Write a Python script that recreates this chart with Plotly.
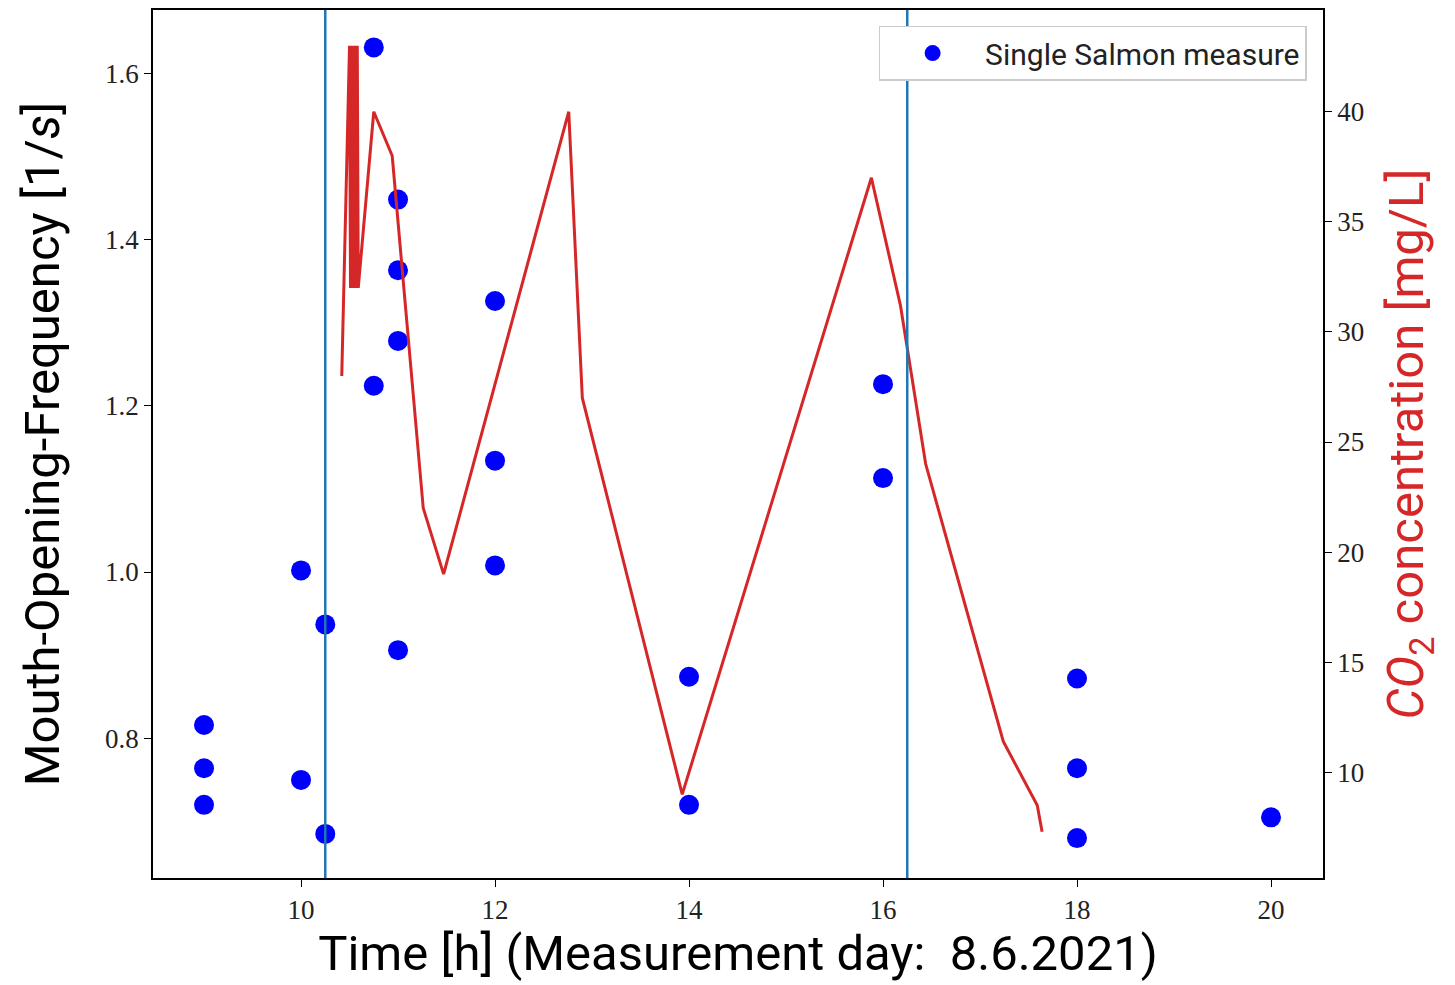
import plotly.graph_objects as go

# Salmon mouth-opening frequency measurements
time_h = [9, 9, 9, 10, 10, 10.25, 10.25, 10.75, 10.75, 11, 11, 11, 11,
          12, 12, 12, 14, 14, 16, 16, 18, 18, 18, 20]
freq = [0.816, 0.764, 0.72, 1.002, 0.75, 0.937, 0.685, 1.631, 1.224,
        1.448, 1.363, 1.278, 0.906, 1.326, 1.134, 1.008, 0.874, 0.72,
        1.226, 1.113, 0.872, 0.764, 0.68, 0.705]

# CO2 concentration series
co2_time = [10.42, 10.50, 10.51, 10.52, 10.53, 10.54, 10.55, 10.56, 10.57,
            10.58, 10.59, 10.75, 10.94,
            11.26, 11.47, 12.76, 12.90, 13.93, 15.88, 16.18, 16.44, 17.24,
            17.59, 17.64]
co2_val = [28, 43, 32, 43, 32, 43, 32, 43, 32,
           43, 32, 40, 38,
           22, 19, 40, 27, 9, 37, 31.2, 24, 11.4,
           8.5, 7.3]

# vertical markers
vlines = [10.25, 16.25]

tick_font = dict(family="Liberation Serif", size=27, color="#222")

fig = go.Figure()
fig.add_trace(go.Scatter(
    x=co2_time, y=co2_val, mode="lines", yaxis="y2",
    line=dict(color="#d62728", width=3), showlegend=False,
))
fig.add_trace(go.Scatter(
    x=time_h, y=freq, mode="markers", name="Single Salmon measure",
    marker=dict(color="#0000ff", size=20), showlegend=True,
))

for v in vlines:
    fig.add_shape(type="line", x0=v, x1=v, y0=0, y1=1, xref="x", yref="paper",
                  line=dict(color="#1f77b4", width=2.5), layer="above")

fig.update_layout(
    width=1447, height=977,
    margin=dict(l=145, r=132, t=0, b=107),
    paper_bgcolor="white", plot_bgcolor="white",
    xaxis=dict(
        range=[8.474, 20.536], tickvals=[10, 12, 14, 16, 18, 20],
        showgrid=False, zeroline=False, showline=True, linecolor="black",
        linewidth=1.5, mirror=True, ticks="outside", ticklen=7, tickwidth=1.2,
        tickcolor="black", tickfont=tick_font,
        title=dict(text="Time [h] (Measurement day:  8.6.2021)",
                   font=dict(family="Roboto", size=49, color="black"), standoff=8),
    ),
    yaxis=dict(
        range=[0.632, 1.676], tickvals=[0.8, 1.0, 1.2, 1.4, 1.6], tickformat=".1f",
        showgrid=False, zeroline=False, showline=True, linecolor="black",
        linewidth=1.5, mirror=True, ticks="outside", ticklen=7, tickwidth=1.2,
        tickcolor="black", tickfont=tick_font,
        title=dict(text="Mouth-Opening-Frequency [1/<i>s</i>]",
                   font=dict(family="Roboto", size=49, color="black"), standoff=30),
    ),
    yaxis2=dict(
        range=[5.2, 44.62], tickvals=[10, 15, 20, 25, 30, 35, 40],
        overlaying="y", side="right", anchor="x",
        showgrid=False, zeroline=False, showline=True, linecolor="black",
        linewidth=1.5, ticks="outside", ticklen=7, tickwidth=1.2,
        tickcolor="black", tickfont=tick_font,
        title=dict(text="<i>CO</i><sub>2</sub> concentration [mg/L]",
                   font=dict(family="Roboto", size=49, color="#d62728"), standoff=26),
    ),
    legend=dict(
        x=0.986, y=0.982, xanchor="right", yanchor="top",
        bgcolor="white", bordercolor="#cccccc", borderwidth=1.5,
        font=dict(family="Roboto", size=30, color="#222"),
        itemsizing="trace", itemwidth=95,
    ),
)

fig.write_html("out.html")
